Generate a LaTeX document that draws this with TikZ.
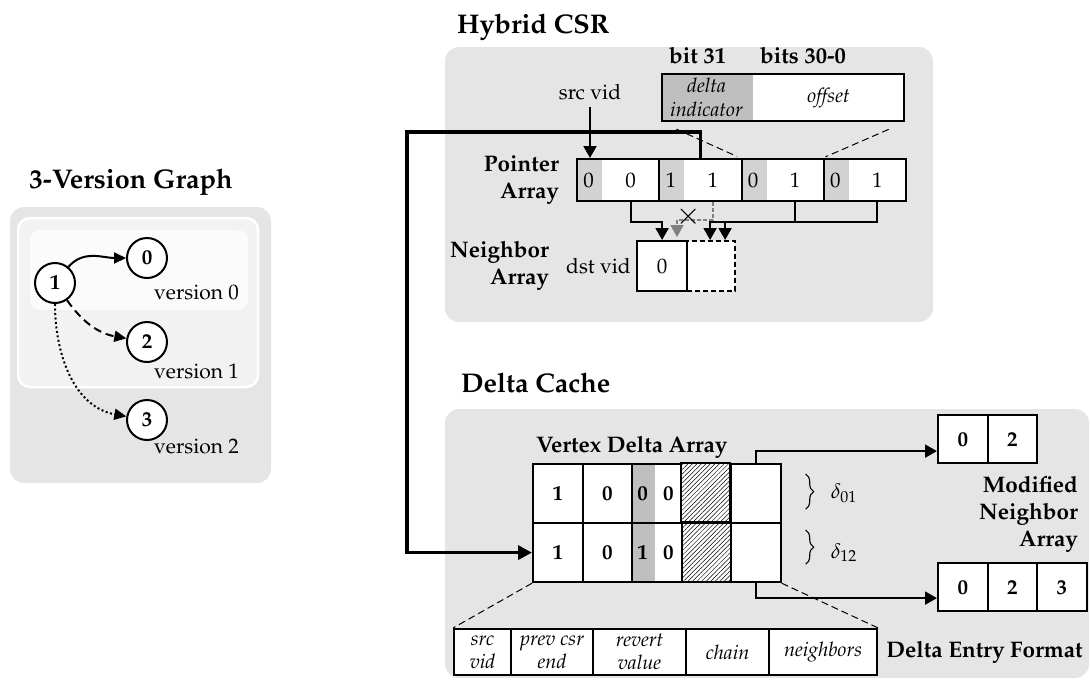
\documentclass[tikz,border=0pt]{standalone}
\usepackage[T1]{fontenc}
\usepackage{mathpazo}
\usetikzlibrary{arrows.meta, positioning, patterns.meta, decorations.pathreplacing}

\begin{document}
\fontsize{21}{25}\selectfont
\begin{tikzpicture}[x=1pt, y=-1pt,
	panel/.style={fill=gray!20, rounded corners=14pt},
	ttl/.style={font=\fontsize{27}{32}\selectfont\bfseries},
	lbl/.style={font=\fontsize{22.5}{27}\selectfont\bfseries, align=right},
	vtx/.style={draw, circle, line width=2pt, fill=white, minimum size=40pt, inner sep=0pt, font=\bfseries},
	gedge/.style={line width=2pt, -{Triangle[length=12pt,width=11pt]}},
	cell/.style={draw, line width=2.2pt, fill=white, anchor=north west, inner sep=0pt},
	bitpart/.style 2 args={path picture={\fill[#1] (path picture bounding box.north west) rectangle ([xshift=#2]path picture bounding box.south west);}},
	ptr/.style={cell, minimum width=82.25pt, minimum height=42pt, bitpart={gray!35}{25pt}},
	vcell/.style={cell, minimum width=49.5pt, minimum height=59pt, font=\bfseries},
	hatch/.style={vcell, preaction={fill=white}, pattern={Lines[angle=45,distance=3.2pt,line width=0.5pt]}},
	mcell/.style={cell, minimum width=49.5pt, minimum height=48pt, font=\bfseries},
	ecell/.style={cell, minimum height=46pt, align=center, font=\fontsize{20}{23}\selectfont\itshape},
	arr/.style={line width=2pt, -{Triangle[length=12pt,width=13pt]}},
	bigarr/.style={line width=3.4pt, -{Triangle[length=14pt,width=14pt]}},
	guide/.style={dash pattern=on 7pt off 4pt, line width=1pt},
	brc/.style={decorate, decoration={brace, amplitude=8pt}, line width=1.1pt}
	]
	\useasboundingbox (0,0) rectangle (1090,681);
	
	% 3-version graph
	\fill[panel] (10,207) rectangle (271,483);
	\draw[white, line width=2.5pt, fill=gray!10, rounded corners=12pt] (18,218) rectangle (258,387);
	\fill[gray!3, rounded corners=10pt] (30,230) rectangle (248,310);
	\node[ttl, anchor=base] (gtitle) at (131,188) {3-Version Graph};
	
	\node[vtx] (gv1) at (55,283) {1};
	\node[vtx] (gv0) at (147,258) {0};
	\node[vtx] (gv2) at (147,342) {2};
	\node[vtx] (gv3) at (147,420) {3};
	\node[anchor=base east] (ver0) at (246,299) {version 0};
	\node[anchor=base east] (ver1) at (246,378) {version 1};
	\node[anchor=base east] (ver2) at (246,453) {version 2};
	
	\draw[gedge] (gv1) to[out=50, in=180] (gv0);
	\draw[gedge, dash pattern=on 8pt off 5pt] (gv1) to[out=-55, in=170] (gv2);
	\draw[gedge, dash pattern=on 2pt off 2.5pt] (gv1) to[out=-90, in=170] (gv3);
	
	% hybrid CSR
	\fill[panel] (445,47) rectangle (933,322);
	\node[ttl, anchor=base west] (htitle) at (450,33) {Hybrid CSR};
	
	\node[cell, minimum width=242pt, minimum height=47pt, bitpart={gray!50}{91pt}] (fmt) at (661,73) {};
	\node[font=\fontsize{20}{24}\selectfont\itshape, align=center] (find) at ([xshift=45.5pt]fmt.west) {delta\\indicator};
	\node[font=\fontsize{20}{24}\selectfont\itshape] (foff) at ([xshift=45.5pt]fmt.center) {offset};
	\node[lbl, anchor=base west] (b31) at ([xshift=1pt,yshift=10pt]fmt.north west) {bit 31};
	\node[lbl, anchor=base west] (b30) at ([xshift=92pt,yshift=10pt]fmt.north west) {bits 30-0};
	
	\foreach \bt/\vl [count=\i] in {0/0,1/1,0/1,0/1} {
		\node[ptr] (p\i) at ({576+82.25*(\i-1)},158) {};
		\node (pb\i) at ([xshift=12.5pt]p\i.west) {\bt};
		\node (pv\i) at ([xshift=12.5pt]p\i.center) {\vl};
	}
	\node[lbl, left=10pt of p1] (plbl) {Pointer\\Array};
	
	\node (src) at (590,92) {src vid};
	\draw[arr] (src) -- (src |- p1.north);
	
	\node[cell, dash pattern=on 5pt off 3pt, minimum width=48pt, minimum height=50pt] (nb1) at (686,240) {};
	\node[cell, minimum width=50pt, minimum height=50pt] (nb0) at (636,240) {0};
	\node[left=-2pt of nb0] (dst) {dst vid};
	\node[lbl, left=3pt of dst] (nlbl) {Neighbor\\Array};
	
	\draw[arr] (pv1 |- p1.south) -- ++(0,20) -| (nb0.north);
	\coordinate (gtip) at (677,237);
	\draw[arr, gray, dash pattern=on 4pt off 2pt] (pv2 |- p2.south) -- ++(0,18) -| (gtip);
	\node[inner sep=0pt, font=\fontsize{30}{30}\selectfont] (cut) at (689,217) {$\times$};
	\draw[arr] (pv3 |- p3.south) -- ++(0,20) -| ([xshift=-1pt]nb1.north);
	\draw[arr] (pv4 |- p4.south) -- ++(0,20) -| ([xshift=14pt]nb1.north);
	
	\draw[guide, shorten <=17pt, shorten >=4pt] (fmt.south west) -- (p3.north west);
	\draw[guide, shorten <=18pt, shorten >=3pt] (fmt.south east) -- (p4.north west);
	
	% delta cache
	\fill[panel] (445,409) rectangle (1089,678);
	\node[ttl, anchor=base west] (dtitle) at (454,392) {Delta Cache};
	
	\foreach \rw/\ca/\cb/\bt/\vl in {1/1/0/0/0, 2/1/0/1/0} {
		\node[vcell] (vd\rw1) at (532,{404+59*\rw}) {\ca};
		\node[vcell] (vd\rw2) at (581.5,{404+59*\rw}) {\cb};
		\node[vcell, bitpart={gray!50}{23pt}] (vd\rw3) at (631,{404+59*\rw}) {};
		\node[font=\bfseries] (vb\rw) at ([xshift=11.5pt]vd\rw3.west) {\bt};
		\node[font=\bfseries] (vh\rw) at ([xshift=11.5pt]vd\rw3.center) {\vl};
		\node[hatch] (vd\rw4) at (680.5,{404+59*\rw}) {};
		\node[vcell] (vd\rw5) at (730,{404+59*\rw}) {};
	}
	\node[lbl, anchor=base west] (vlbl) at ([xshift=-3pt,yshift=11pt]vd11.north west) {Vertex Delta Array};
	
	\draw[brc] ([xshift=24pt,yshift=-11pt]vd15.north east) -- ([xshift=24pt,yshift=15pt]vd15.south east);
	\node[anchor=west] (d01) at ([xshift=42pt]vd15.east) {$\delta_{01}$};
	\draw[brc] ([xshift=24pt,yshift=-8pt]vd25.north east) -- ([xshift=24pt,yshift=19pt]vd25.south east);
	\node[anchor=west] (d12) at ([xshift=42pt]vd25.east) {$\delta_{12}$};
	
	\foreach \val [count=\k] in {0,2} \node[mcell] (ma\k) at ({937+49.5*(\k-1)},414) {\val};
	\foreach \val [count=\k] in {0,2,3} \node[mcell] (mb\k) at ({937+49.5*(\k-1)},562) {\val};
	\draw[arr] (vd15.north) |- ([yshift=-12pt]ma1.west);
	\draw[arr] (vd25.south) |- ([yshift=-11pt]mb1.west);
	\node[lbl, anchor=east] (mlbl) at (1085,514) {Modified\\Neighbor\\Array};
	
	\foreach \txt/\xl/\cw [count=\k] in {{src\\vid}/453/57, {prev csr\\end}/510/82, {revert\\value}/592/93, chain/685/83, neighbors/768/108}
		\node[ecell, minimum width=\cw pt] (fe\k) at (\xl,628) {\txt};
	\draw[guide] (vd21.south west) -- (fe1.north west);
	\draw[guide] (vd25.south east) -- (fe5.north east);
	\node[lbl, right=1pt of fe5] (elbl) {Delta Entry Format};
	
	% pointer to vertex delta array
	\coordinate (turn) at (407,132);
	\draw[bigarr] (p2.north) |- (turn) |- (vd21.west);
	
\end{tikzpicture}
\end{document}
